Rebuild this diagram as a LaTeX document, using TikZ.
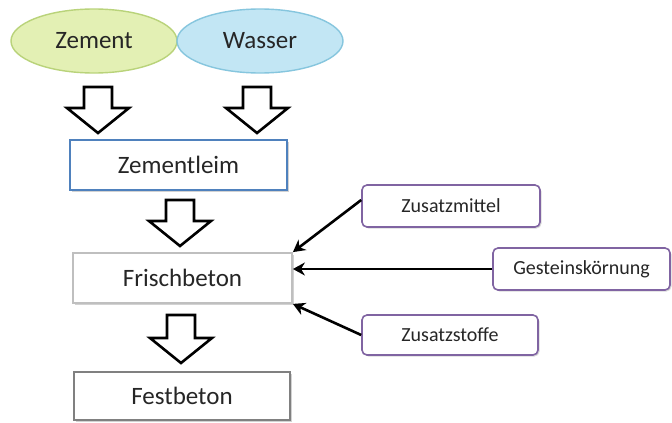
\documentclass[tikz,border=0pt]{standalone}
\usepackage{fontspec}
\setmainfont{Carlito}
\usetikzlibrary{shapes.geometric,shadows,arrows.meta}
\definecolor{zgreen}{HTML}{E3F0B4}
\definecolor{zgreenb}{HTML}{B9D37A}
\definecolor{wblue}{HTML}{C2E6F4}
\definecolor{wblueb}{HTML}{86C6DE}
\definecolor{boxblue}{HTML}{4F81BD}
\definecolor{boxpurple}{HTML}{8064A2}
\definecolor{txt}{HTML}{262626}
\tikzset{
  bigtext/.style={font=\fontsize{25}{28}\selectfont, text=txt},
  smalltext/.style={font=\fontsize{20}{23}\selectfont, text=txt},
  blob/.style={ellipse, draw, line width=1.4pt, minimum width=166pt, minimum height=64pt, bigtext},
  stagebox/.style={rectangle, draw, fill=white, line width=1.8pt, bigtext,
    drop shadow={shadow xshift=1.5pt, shadow yshift=-1.5pt, opacity=0.35}},
  addbox/.style={rectangle, rounded corners=5pt, draw=boxpurple, fill=white, line width=1.6pt, smalltext,
    drop shadow={shadow xshift=1.5pt, shadow yshift=-1.5pt, opacity=0.3}},
  feed/.style={draw=black, line width=2.6pt, -{Stealth[length=12pt, width=13pt]}},
  hollow/.style={draw=black, fill=white, line width=2.6pt, line join=miter},
  pics/hollowarrow/.style args={#1/#2/#3}{code={
    \path[hollow] (-14,#1) -- (14,#1) -- (14,#2) -- (31,#2) -- (0,#3) -- (-31,#2) -- (-14,#2) -- cycle;
  }}
}
\begin{document}
\begin{tikzpicture}[x=1pt,y=-1pt]
\useasboundingbox[fill=white] (0,0) rectangle (672,423);

\node[blob, draw=zgreenb, fill=zgreen] (zement) at (94,41) {Zement};
\node[blob, draw=wblueb, fill=wblue] (wasser) at (260,41) {Wasser};

\node[stagebox, draw=boxblue, minimum width=217pt, minimum height=50pt] (leim) at (178.5,165) {Zementleim};
\node[stagebox, draw=black!25, minimum width=219pt, minimum height=50pt] (frisch) at (182.5,278) {Frischbeton};
\node[stagebox, draw=black!50, minimum width=216pt, minimum height=48pt] (fest) at (182,396) {Festbeton};

\node[addbox, minimum width=178pt, minimum height=42pt] (mittel) at (451,206) {Zusatzmittel};
\node[addbox, minimum width=177pt, minimum height=42pt] (gestein) at (581.5,269) {Gesteinskörnung};
\node[addbox, minimum width=176pt, minimum height=40pt] (stoffe) at (450,335) {Zusatzstoffe};

\pic at (98,0) {hollowarrow={87/108/133}};
\pic at (257,0) {hollowarrow={87/108/133}};
\pic at (180,0) {hollowarrow={200/221/246}};
\pic at (181,0) {hollowarrow={315/338/363}};

\draw[feed] ([yshift=6pt]mittel.west) -- (frisch.north east);
\draw[feed] (gestein.west) -- (frisch.east |- gestein.west);
\draw[feed] (stoffe.west) -- (frisch.south east);
\end{tikzpicture}
\end{document}
